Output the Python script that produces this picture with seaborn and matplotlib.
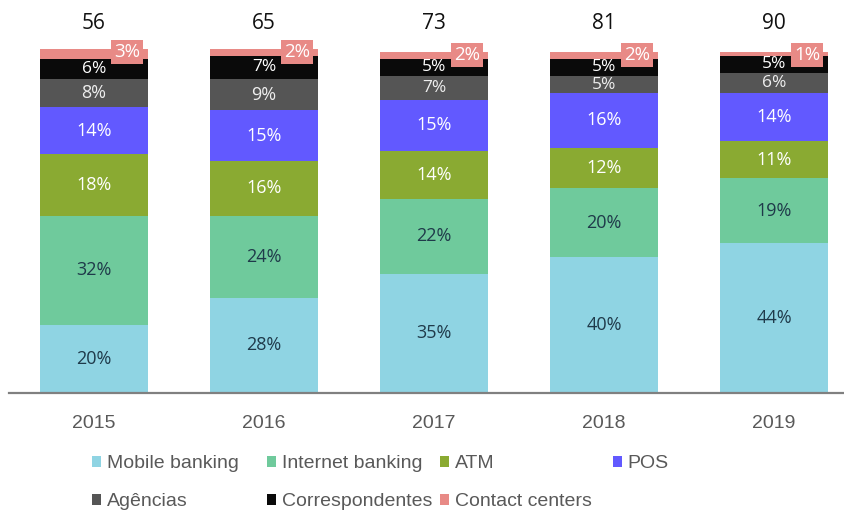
import matplotlib
matplotlib.use("Agg")
import matplotlib.pyplot as plt
import seaborn as sns
import numpy as np
import pandas as pd
from matplotlib.patches import Patch

years = ["2015", "2016", "2017", "2018", "2019"]
totals = [56, 65, 73, 81, 90]
series_names = ["Mobile banking", "Internet banking", "ATM", "POS",
                "Agências", "Correspondentes", "Contact centers"]
mobile = [20, 28, 35, 40, 44]
internet = [32, 24, 22, 20, 19]
atm = [18, 16, 14, 12, 11]
pos = [14, 15, 15, 16, 14]
agencias = [8, 9, 7, 5, 6]
correspondentes = [6, 7, 5, 5, 5]
contact = [3, 2, 2, 2, 1]

series_values = [mobile, internet, atm, pos, agencias, correspondentes, contact]
colors = ["#8FD4E3", "#6FCA9C", "#8AAA32", "#6259FF", "#555555", "#0A0A0A", "#E88A86"]
label_colors = ["#1F3A4A", "#1F3A4A", "white", "white", "#EEEEEE", "white", "white"]

sns.set_style("white")
plt.rcParams["font.family"] = ["Open Sans", "DejaVu Sans"]
ARIAL = ["Liberation Sans", "DejaVu Sans"]

fig = plt.figure(figsize=(8.45, 5.12), dpi=100)
ax = fig.add_axes([9 / 845, 1 - 393 / 512, 850 / 845, 392 / 512])

vals = np.array(series_values, dtype=float)
cum = np.cumsum(vals, axis=0)

# Draw cumulative bars from top to bottom
for k in range(len(series_names) - 1, -1, -1):
    df = pd.DataFrame({"year": years, "value": cum[k]})
    sns.barplot(data=df, x="year", y="value", color=colors[k], width=0.635,
                errorbar=None, ax=ax, saturation=1, edgecolor="none", linewidth=0)

for i in range(len(years)):
    for k in range(len(series_names)):
        v = vals[k, i]
        top = cum[k, i]
        if k == len(series_names) - 1:
            ax.text(i + 0.195, top - 0.9, f"{int(v)}%", ha="center", va="center",
                    color="white", fontsize=13.5,
                    bbox=dict(boxstyle="square,pad=0.16", facecolor=colors[k], edgecolor="none"))
        else:
            ax.text(i, top - v / 2, f"{int(v)}%", ha="center", va="center",
                    color=label_colors[k], fontsize=13 if v >= 8 else 12.5)
    ax.text(i, 108.3, str(totals[i]), ha="center", va="center", fontsize=15,
            color="#111111")

ax.set_xlim(-0.5, 4.5)
ax.set_ylim(0, 115)
ax.set_xlabel("")
ax.set_ylabel("")
ax.set_yticks([])
for s in ["left", "right", "top"]:
    ax.spines[s].set_visible(False)
ax.spines["bottom"].set_color("#808080")
ax.spines["bottom"].set_linewidth(1.6)
ax.tick_params(axis="x", length=0, pad=15.5, labelsize=14, labelcolor="#595959")
for t in ax.get_xticklabels():
    t.set_family(ARIAL)

# Legend items placed individually (Excel-like grid)
positions = [(92, 464), (267, 464), (440, 464), (613, 464),
             (92, 502), (267, 502), (440, 502)]
for k, name in enumerate(series_names):
    x, y = positions[k]
    h = Patch(facecolor=colors[k], edgecolor="none", label=name)
    fig.legend(handles=[h], loc="center left",
               bbox_to_anchor=(x / 845, 1 - y / 512),
               frameon=False, handlelength=0.45, handleheight=0.45,
               handletextpad=0.3, borderpad=0, borderaxespad=0,
               prop={"family": ARIAL, "size": 14},
               labelcolor="#595959")

fig.savefig("out.png", dpi=100)
